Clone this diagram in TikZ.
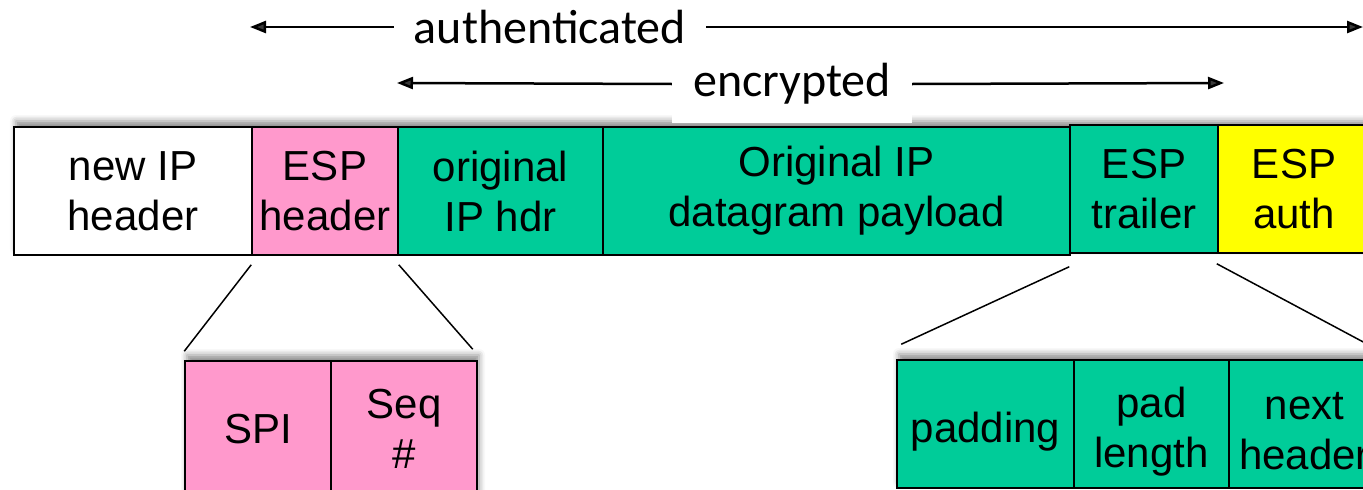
\documentclass[tikz,border=0pt]{standalone}
\usepackage{fontspec}
\setmainfont{Liberation Sans}
\newfontfamily\labfont{Carlito}
\usetikzlibrary{arrows.meta,shadows.blur}
\definecolor{espink}{HTML}{FF99CC}
\definecolor{espgreen}{HTML}{00CC99}
\definecolor{espyellow}{HTML}{FFFF00}
\tikzset{
  fld/.style={draw, line width=1.5pt, inner sep=0pt, align=center,
    font=\fontsize{42}{50}\selectfont, minimum height=128pt},
  lab/.style={inner ysep=0pt, font=\labfont\fontsize{48}{56}\selectfont},
  arr/.style={line width=2.5pt, -{Triangle[length=16pt,width=12pt]}},
  zoomline/.style={line width=1.5pt},
  shade/.style={blur shadow={shadow xshift=2pt, shadow yshift=6pt,
    shadow blur radius=6pt, shadow opacity=45}}
}
\begin{document}
\begin{tikzpicture}[x=1pt,y=-1pt]
\clip (0,0) rectangle (1363,490);
% soft shadows behind the rows
\path[shade] (14,127) rectangle (1380,255);
\path[shade] (185,361) rectangle (477,500);
\path[shade] (897,360) rectangle (1380,488);
% main datagram row
\node[fld, fill=white, minimum width=238pt] (newip) at (133,191) {new IP\\header};
\node[fld, fill=espink, minimum width=146pt] (esph) at (325,191) {ESP\\header};
\node[fld, fill=espgreen, minimum width=205pt] (origh) at (500.5,191) {original\\IP hdr};
\node[fld, fill=espgreen, minimum width=467pt] (payload) at (836.5,191) {Original IP\\datagram payload};
\node[fld, fill=espgreen, minimum width=148pt] (trailer) at (1144,189) {ESP\\trailer};
\node[fld, fill=espyellow, minimum width=152pt] (espauth) at (1294,189) {ESP\\auth};
% ESP header detail
\node[fld, fill=espink, minimum width=146pt, minimum height=136pt] (spi) at (258,429) {SPI};
\node[fld, fill=espink, minimum width=146pt, minimum height=136pt] (seq) at (404,429) {Seq\\\#};
% ESP trailer detail
\node[fld, fill=espgreen, minimum width=177pt, text height=45pt] (padding) at (985.5,424) {padding};
\node[fld, fill=espgreen, minimum width=155pt, text height=95pt] (padlen) at (1151.5,424) {pad\\length};
\node[fld, fill=espgreen, minimum width=151pt, text height=92pt] (nexth) at (1304.5,424) {next\\header};
% zoom lines
\draw[zoomline] ([yshift=-9pt]esph.south west) -- ([yshift=9pt]spi.north west);
\draw[zoomline] ([yshift=-9pt]esph.south east) -- ([xshift=-5pt,yshift=11pt]seq.north east);
\draw[zoomline] ([yshift=-13pt]trailer.south west) -- ([xshift=5pt,yshift=15pt]padding.north west);
\draw[zoomline] ([xshift=-2pt,yshift=-10pt]trailer.south east) -- ([xshift=-17pt,yshift=17pt]nexth.north east);
% top range arrows
\node[lab, inner xsep=20pt] (authl) at (550,27) {authenticated};
\coordinate (aL) at (250,27);
\coordinate (aR) at (1363,27);
\draw[arr] (authl.west) -- (aL);
\draw[arr] (authl.east) -- (aR);
\node[lab, fill=white, minimum width=240pt, minimum height=78pt] (encl) at (792,84) {encrypted};
\coordinate (eL) at (397,83);
\coordinate (eR) at (1224,83);
\draw[arr] (encl.west) -- (eL);
\draw[arr] (encl.east) -- (eR);
\end{tikzpicture}
\end{document}
